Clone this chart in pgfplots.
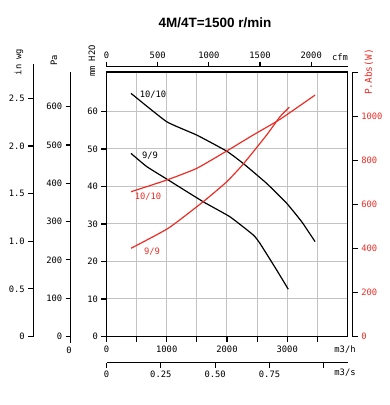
\documentclass[border=0pt]{standalone}
\usepackage{pgfplots}
\pgfplotsset{compat=1.18}
\usepackage{fontspec}
\setmainfont{DejaVu Sans Mono}
\newfontfamily\titlefont{Liberation Sans}
\definecolor{pred}{RGB}{236,45,38}
\definecolor{gridc}{RGB}{195,195,195}
\pgfplotsset{
  sc/.style={scale only axis,
    /pgf/number format/assume math mode=true,
    /pgf/number format/1000 sep={},
    tick label style={font=\fontsize{8.8}{10}\selectfont},
    axis line style={line width=1.1pt}},
  tk/.style={tick align=outside, major tick length=5pt,
    every tick/.style={black, line width=1.2pt}},
}
\begin{document}
\begin{tikzpicture}
\path[use as bounding box] (0pt,0pt) rectangle (390pt,-405pt);
% main axis (mm H2O vs m3/h)
\begin{axis}[sc, at={(106.5pt,-336.5pt)}, anchor=south west,
  width=241pt, height=264.5pt,
  xmin=0, xmax=4000, ymin=0, ymax=70.5,
  xtick={0,500,1000,1500,2000,2500,3000,3500},
  xticklabels={0,,1000,,2000,,3000,},
  ytick={0,10,20,30,40,50,60},
  xtick pos=bottom, ytick pos=left,
  xticklabel style={yshift=-1pt},
  grid=major, grid style={gridc, line width=1pt},
  axis line style={line width=1.1pt}, tk]
\addplot[black, line width=1.2pt, smooth, tension=0.25] coordinates {
 (407,64.8) (999,57.25) (1497,53.7) (1995,49.4) (2271,46.1) (2659,40.8) (2991,35.5) (3240,30.6) (3461,25.3)};
\addplot[black, line width=1.2pt, smooth, tension=0.25] coordinates {
 (407,48.8) (667,45.3) (1026,41.7) (1607,35.9) (2050,31.9) (2437,27.05) (2548,24.8) (2825,17.7) (3017,12.6)};
\end{axis}
% power curves
\begin{axis}[sc, at={(106.5pt,-336.5pt)}, anchor=south west,
  width=241pt, height=264.5pt,
  xmin=0, xmax=4000, ymin=0, ymax=1202,
  axis lines=none]
\addplot[pred, line width=1.2pt, smooth, tension=0.3] coordinates {
 (407,658) (999,711) (1497,764) (1995,843) (2437,916) (2880,987) (3461,1097)};
\addplot[pred, line width=1.2pt, smooth, tension=0.3] coordinates {
 (407,401) (1026,492) (1607,613) (1995,703) (2271,784) (2659,916) (2880,999) (3034,1042)};
\end{axis}
% right power axis
\begin{axis}[sc, at={(352.8pt,-336.5pt)}, anchor=south east,
  width=10pt, height=264.5pt,
  xmin=0, xmax=1, ymin=0, ymax=1202,
  axis y line*=right, hide x axis, tk,
  ytick={0,200,400,600,800,1000,1200},
  yticklabels={0,200,400,600,800,1000,},
  yticklabel style={text=pred}]
\end{axis}
% in wg axis
\begin{axis}[sc, at={(33.3pt,-336.5pt)}, anchor=south west,
  width=10pt, height=273pt,
  xmin=0, xmax=1, ymin=0, ymax=2.866,
  axis y line*=left, hide x axis, tk,
  ytick={0,0.5,1,1.5,2,2.5},
  yticklabels={0,0.5,1.0,1.5,2.0,2.5}]
\end{axis}
% Pa axis
\begin{axis}[sc, at={(70.7pt,-343pt)}, anchor=south west,
  width=10pt, height=271pt,
  xmin=0, xmax=1, ymin=-17, ymax=690.4,
  axis y line*=left, hide x axis, tk,
  ytick={0,100,200,300,400,500,600}]
\end{axis}
% cfm axis
\begin{axis}[sc, at={(106.5pt,-66.7pt)}, anchor=north west,
  width=241pt, height=10pt,
  xmin=0, xmax=2354.4, ymin=0, ymax=1,
  axis x line*=top, hide y axis, tk,
  xtick={0,500,1000,1500,2000}]
\end{axis}
% m3/s axis
\begin{axis}[sc, at={(106.5pt,-362.7pt)}, anchor=south west,
  width=241.5pt, height=10pt,
  xmin=0, xmax=1.1111, ymin=0, ymax=1,
  axis x line*=bottom, hide y axis, tk,
  xtick={0,0.25,0.5,0.75,1},
  xticklabels={0,0.25,0.50,0.75,}]
\end{axis}
% texts
\node[font=\titlefont\bfseries\fontsize{13.5}{15}\selectfont] at (215pt,-23pt) {4M/4T=1500 r/min};
\node[rotate=90, font=\fontsize{8.8}{10}\selectfont] at (19pt,-62pt) {in wg};
\node[rotate=90, font=\fontsize{8.8}{10}\selectfont] at (54pt,-60pt) {Pa};
\node[rotate=90, font=\fontsize{8.8}{10}\selectfont] at (92pt,-61pt) {mm H2O};
\node[rotate=90, font=\fontsize{9.5}{10}\selectfont, text=pred] at (369pt,-72pt) {P.Abs(W)};
\node[font=\fontsize{8.8}{10}\selectfont] at (340pt,-57pt) {cfm};
\node[font=\fontsize{8.8}{10}\selectfont] at (345pt,-350pt) {m3/h};
\node[font=\fontsize{8.8}{10}\selectfont] at (345pt,-373pt) {m3/s};
\node[font=\fontsize{8.8}{10}\selectfont] at (69pt,-350pt) {0};
\node[font=\fontsize{8.8}{10}\selectfont] at (153pt,-95pt) {10/10};
\node[font=\fontsize{8.8}{10}\selectfont] at (150pt,-156pt) {9/9};
\node[font=\fontsize{8.8}{10}\selectfont, text=pred] at (148pt,-197pt) {10/10};
\node[font=\fontsize{8.8}{10}\selectfont, text=pred] at (152pt,-252pt) {9/9};
\end{tikzpicture}
\end{document}
